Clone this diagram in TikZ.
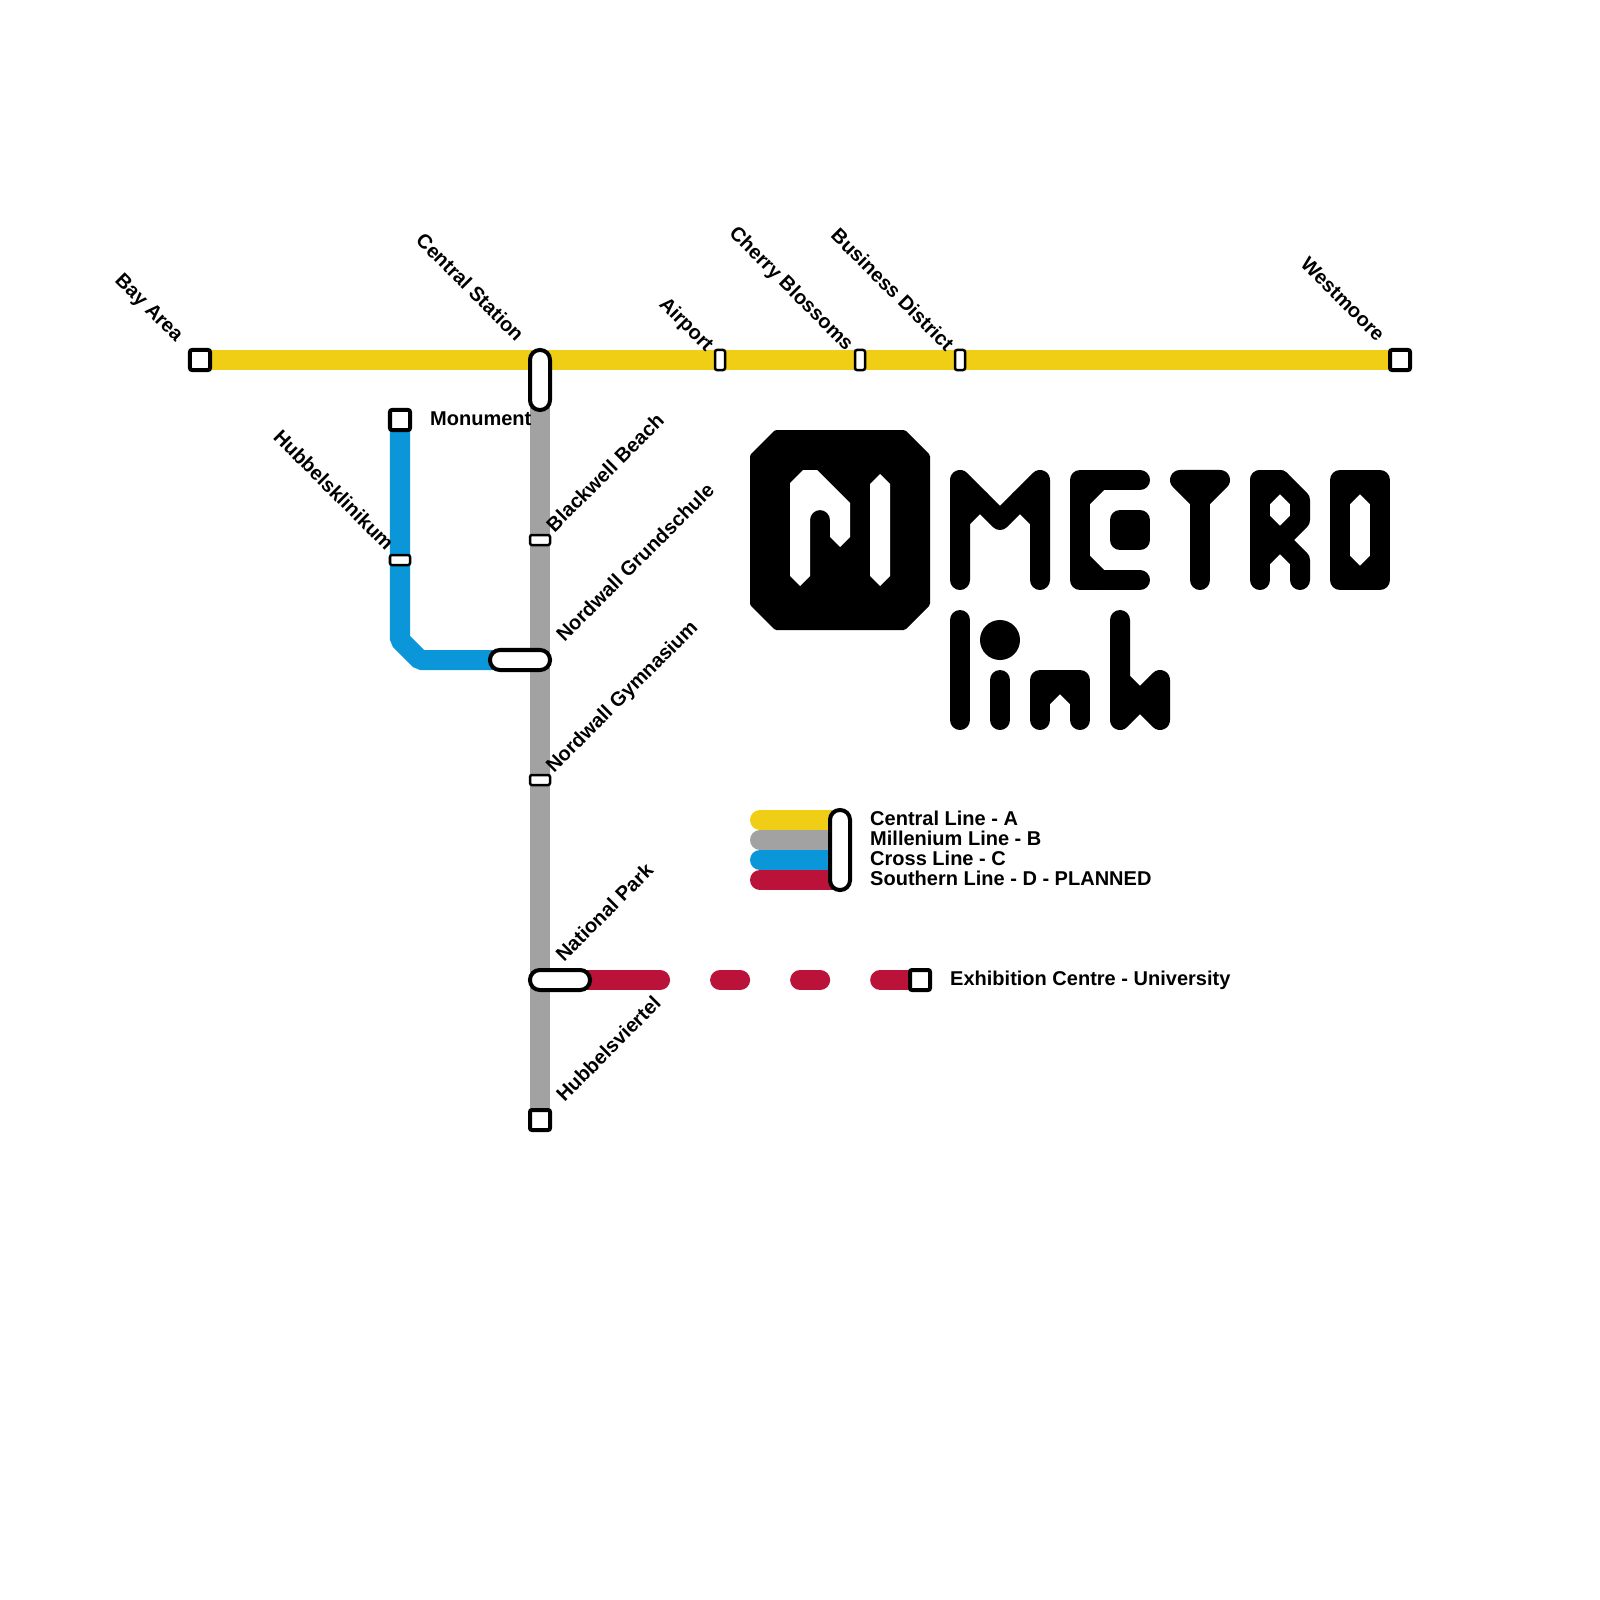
\documentclass[tikz,border=0pt]{standalone}
\usepackage{fontspec}
\setmainfont{Liberation Sans}
\usetikzlibrary{backgrounds}

\definecolor{lineA}{RGB}{240,206,21}
\definecolor{lineB}{RGB}{162,162,162}
\definecolor{lineC}{RGB}{10,150,216}
\definecolor{lineD}{RGB}{186,18,56}

\tikzset{
  terminus/.style={draw=black, fill=white, line width=.04cm, rounded corners=.02cm,
    minimum width=.2cm, minimum height=.2cm, inner sep=0pt},
  halt/.style={draw=black, fill=white, line width=.025cm, rounded corners=.02cm,
    inner sep=0pt},
  halth/.style={halt, minimum width=.2cm, minimum height=.1cm},
  haltv/.style={halt, minimum width=.1cm, minimum height=.2cm},
  pill/.style={draw=black, fill=white, line width=.04cm, rounded corners=.098cm, inner sep=0pt},
  track/.style={line width=.2cm},
  stationname/.style={font=\fontsize{5.69}{5.69}\selectfont\bfseries, inner sep=0pt},
  nameup/.style={stationname, rotate=45, anchor=base west},
  namedown/.style={stationname, rotate=-45, anchor=base east},
  nameflat/.style={stationname, anchor=base west},
  logostroke/.style={line width=.2cm, line cap=round, line join=round},
}

\begin{document}
\begin{tikzpicture}[x=.01cm, y=-.01cm]
  \useasboundingbox (0,0) rectangle (1600,1600);

  % stations on line A
  \node[terminus] (bay) at (200,360) {};
  \node[pill, minimum width=.2cm, minimum height=.6cm] (central) at (540,380) {};
  \node[haltv] (airport) at (720,360) {};
  \node[haltv] (cherry) at (860,360) {};
  \node[haltv] (business) at (960,360) {};
  \node[terminus] (westmoore) at (1400,360) {};

  % stations on line C
  \node[terminus] (monument) at (400,420) {};
  \node[halth] (klinikum) at (400,560) {};
  \node[pill, minimum width=.6cm, minimum height=.2cm] (grund) at (520,660) {};
  \coordinate (bendtop) at (400,640);
  \coordinate (bendlow) at (420,660);

  % stations on line B
  \node[halth] (beach) at (540,540) {};
  \node[halth] (gym) at (540,780) {};
  \node[pill, minimum width=.6cm, minimum height=.2cm] (park) at (560,980) {};
  \node[terminus] (viertel) at (540,1120) {};

  % line D ends here
  \node[terminus] (expo) at (920,980) {};

  % legend
  \node[pill, minimum width=.2cm, minimum height=.8cm] (swap) at (840,850) {};
  \coordinate (legA) at (760,820);
  \coordinate (legB) at (760,840);
  \coordinate (legC) at (760,860);
  \coordinate (legD) at (760,880);

  \begin{pgfonlayer}{background}
    \draw[track, lineB] (central.center) -- (viertel.center);
    \draw[track, lineA] (bay.center) -- (westmoore.center);
    \draw[track, lineC, line join=bevel] (monument.center) -- (bendtop) -- (bendlow) -- (grund.center);
    \draw[track, lineD, line cap=round, dash pattern=on 1cm off .6cm on .2cm off .6cm on .2cm off .6cm on .4cm]
      (park.center) -- (expo.center);
    \foreach \row/\col in {A/lineA, B/lineB, C/lineC, D/lineD}
      \draw[track, \col, line cap=round] (leg\row) -- (leg\row -| swap);
  \end{pgfonlayer}

  % names
  \node[namedown] (bayname) at (176,343) {Bay Area};
  \node[namedown] (centralname) at (516,343) {Central Station};
  \node[namedown] (airportname) at (706,353) {Airport};
  \node[namedown] (cherryname) at (846,352) {Cherry Blossoms};
  \node[namedown] (businessname) at (946,353) {Business District};
  \node[namedown] (westmoorename) at (1377,343) {Westmoore};
  \node[namedown] (klinikumname) at (386,552) {Hubbelsklinikum};
  \node[nameflat] (monumentname) at (429.5,425) {Monument};
  \node[nameup] (beachname) at (554,533.5) {Blackwell Beach};
  \node[nameup] (grundname) at (564,643) {Nordwall Grundschule};
  \node[nameup] (gymname) at (553.5,774) {Nordwall Gymnasium};
  \node[nameup] (parkname) at (563.5,963) {National Park};
  \node[nameup] (viertelname) at (564,1103) {Hubbelsviertel};
  \node[nameflat] (exponame) at (949.5,985) {Exhibition Centre - University};

  \node[nameflat] (legAname) at (869.5,825) {Central Line - A};
  \node[nameflat] (legBname) at (869.5,845) {Millenium Line - B};
  \node[nameflat] (legCname) at (869.5,865) {Cross Line - C};
  \node[nameflat] (legDname) at (869.5,885) {Southern Line - D - PLANNED};

  % badge
  \fill[rounded corners=.015cm] (775,430) -- (905,430) -- (930,455) -- (930,605) -- (905,630)
    -- (775,630) -- (750,605) -- (750,455) -- cycle;
  \fill[white] (790,483) -- (803,470) -- (817,470) -- (850,503) -- (850,537) -- (840,547) -- (830,537)
    -- (830,520) arc[start angle=0, end angle=-180, radius=10] -- (810,576) -- (800,586) -- (790,576) -- cycle;
  \fill[white] (870,484) -- (880,474) -- (890,484) -- (890,576) -- (880,586) -- (870,576) -- cycle;

  % M
  \draw[logostroke] (960,580) -- (960,480) -- (1000,520) -- (1040,480) -- (1040,580);
  \draw[logostroke] (960,520) -- (980,500);
  \draw[logostroke] (1040,520) -- (1020,500);
  % E
  \draw[logostroke] (1140,480) -- (1080,480) -- (1080,580) -- (1140,580);
  \draw[logostroke] (1080,500) -- (1100,480);
  \draw[logostroke] (1080,560) -- (1100,580);
  \draw[logostroke, fill] (1120,520) -- (1140,520) -- (1140,540) -- (1120,540) -- cycle;
  % T
  \draw[logostroke, fill] (1180,480) -- (1220,480) -- (1200,500) -- cycle;
  \draw[logostroke] (1200,480) -- (1200,580);
  % R
  \draw[logostroke] (1260,480) -- (1260,580);
  \draw[logostroke] (1260,500) -- (1280,480) -- (1300,500) -- (1300,520) -- (1280,540) -- (1300,560) -- (1300,580);
  \draw[logostroke] (1260,480) -- (1280,480);
  \draw[logostroke] (1260,520) -- (1280,540) -- (1260,560);
  % O
  \draw[logostroke] (1340,480) -- (1380,480) -- (1380,580) -- (1340,580) -- cycle;
  \draw[logostroke] (1340,500) -- (1360,480) -- (1380,500);
  \draw[logostroke] (1340,560) -- (1360,580) -- (1380,560);

  % l
  \draw[logostroke] (960,620) -- (960,720);
  % i
  \fill (1000,640) circle[radius=20];
  \draw[logostroke] (1000,680) -- (1000,720);
  % n
  \draw[logostroke] (1040,720) -- (1040,680) -- (1080,680) -- (1080,720);
  \draw[logostroke] (1040,700) -- (1060,680) -- (1080,700);
  % k
  \draw[logostroke] (1120,620) -- (1120,720) -- (1140,700) -- (1160,720) -- (1160,680) -- (1140,700) -- (1120,680);
\end{tikzpicture}
\end{document}
